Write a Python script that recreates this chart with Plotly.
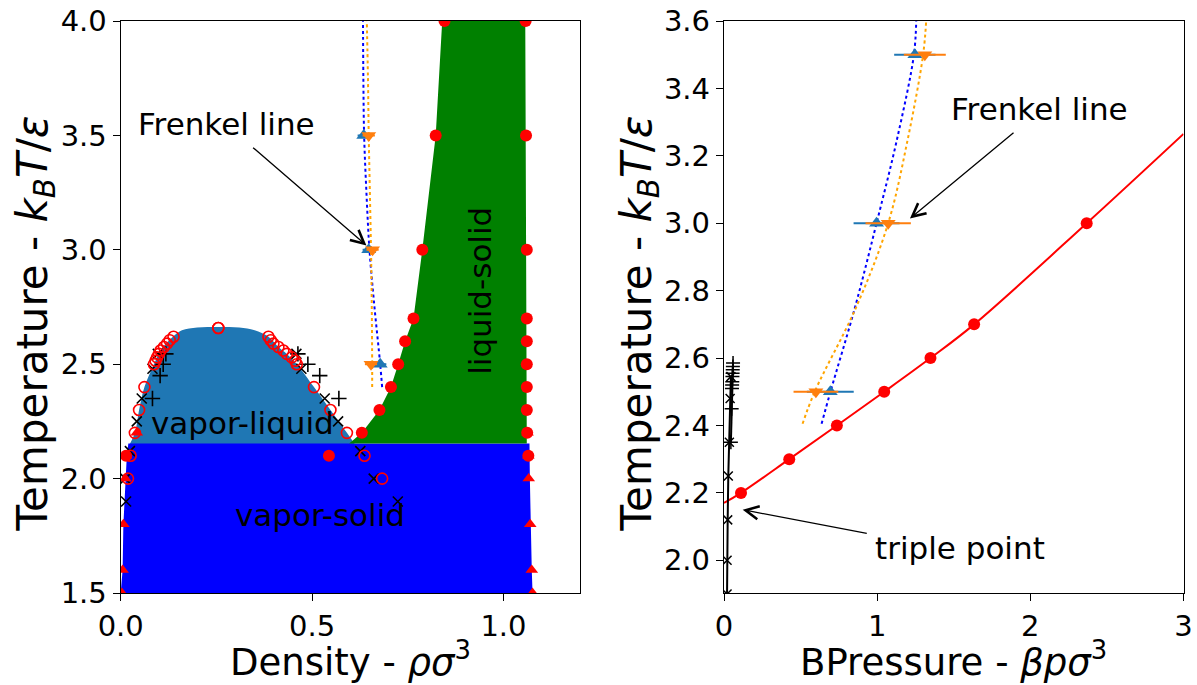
import plotly.graph_objects as go

# ================= DATA =================
# ---- Left panel: density vs temperature ----
# vapor-liquid coexistence (open red circles)
T_vl = [2.0, 2.1, 2.2, 2.3, 2.4, 2.5, 2.515, 2.53, 2.545, 2.56, 2.575, 2.59, 2.605, 2.62, 2.658]
rho_vl_vap = [0.019, 0.026, 0.037, 0.048, 0.062, 0.087, 0.091, 0.095, 0.100, 0.104, 0.113, 0.121, 0.128, 0.138, 0.255]
rho_vl_liq = [0.683, 0.637, 0.591, 0.548, 0.505, 0.460, 0.456, 0.447, 0.434, 0.425, 0.412, 0.399, 0.392, 0.386, 0.255]

# liquid-solid coexistence (filled red circles)
T_ls = [2.2, 2.3, 2.4, 2.5, 2.6, 2.7, 3.0, 3.5, 4.0]
rho_ls_liq = [0.630, 0.676, 0.706, 0.725, 0.743, 0.765, 0.788, 0.823, 0.846]
rho_ls_sol = [1.062, 1.061, 1.061, 1.061, 1.061, 1.061, 1.061, 1.059, 1.058]

# extra filled circles at T = 2.1
T_c21 = [2.1, 2.1, 2.1]
rho_c21 = [0.014, 0.544, 1.065]

# vapor-solid coexistence (red triangles)
T_vs = [2.2, 2.1, 2.0, 1.8, 1.6, 1.5]
rho_vs_vap = [0.042, 0.014, 0.012, 0.007, 0.005, 0.003]
rho_vs_sol = [1.063, 1.065, 1.066, 1.070, 1.074, 1.076]

# black "x" coexistence estimates
T_x = [1.9, 2.0, 2.12, 2.25, 2.35, 2.48, 2.545]
rho_x_vap = [0.014, 0.012, 0.024, 0.042, 0.055, 0.083, 0.097]
rho_x_liq = [0.724, 0.661, 0.626, 0.568, 0.533, 0.472, 0.459]

# black "+" coexistence estimates
T_plus = [2.35, 2.45, 2.50, 2.545]
rho_plus_vap = [0.083, 0.103, 0.111, 0.118]
rho_plus_liq = [0.570, 0.520, 0.489, 0.463]

# Frenkel line (density)
T_fr = [2.5, 3.0, 3.5]
rho_fr_a = [0.678, 0.648, 0.635]
rho_fr_b = [0.654, 0.658, 0.648]
rho_fr_err = [0.016, 0.016, 0.016]
T_fr_fit = [2.4, 2.5, 2.75, 3.0, 3.25, 3.5, 3.75, 4.0]
rho_fr_fit_a = [0.683, 0.678, 0.663, 0.650, 0.642, 0.636, 0.634, 0.633]
rho_fr_fit_b = [0.657, 0.657, 0.656, 0.654, 0.651, 0.648, 0.646, 0.643]

# phase region outlines
dome_rho = [0.017, 0.037, 0.048, 0.062, 0.087, 0.104, 0.121, 0.138, 0.160, 0.200, 0.255,
            0.310, 0.350, 0.386, 0.412, 0.434, 0.460, 0.505, 0.548, 0.591, 0.620]
dome_T = [2.13, 2.2, 2.3, 2.4, 2.5, 2.56, 2.595, 2.622, 2.648, 2.66, 2.663,
          2.66, 2.648, 2.62, 2.575, 2.545, 2.5, 2.4, 2.3, 2.2, 2.13]
vs_rho = [0.000, 0.005, 0.007, 0.012, 0.016, 0.020, 1.068, 1.069, 1.071, 1.074, 1.076]
vs_T = [1.5, 1.6, 1.8, 2.0, 2.1, 2.153, 2.153, 2.0, 1.8, 1.6, 1.5]
ls_rho = [0.597, 0.630, 0.676, 0.706, 0.725, 0.743, 0.765, 0.788, 0.823, 0.840, 1.057, 1.059, 1.061]
ls_T = [2.153, 2.2, 2.3, 2.4, 2.5, 2.6, 2.7, 3.0, 3.5, 4.0, 4.0, 3.0, 2.153]

# ---- Right panel: pressure vs temperature ----
# melting line (red)
p_melt = [0.111, 0.426, 0.737, 1.046, 1.348, 1.633, 2.368]
T_melt = [2.2, 2.3, 2.4, 2.5, 2.6, 2.7, 3.0]
p_melt_fit = [0.0, 0.111, 0.426, 0.737, 1.046, 1.348, 1.633, 2.368, 3.0]
T_melt_fit = [2.17, 2.2, 2.3, 2.4, 2.5, 2.6, 2.7, 3.0, 3.265]

# vapour pressure (black)
T_vp_x = [1.9, 2.0, 2.12, 2.25, 2.35, 2.48, 2.545]
p_vp_x = [0.020, 0.020, 0.024, 0.028, 0.035, 0.040, 0.045]
T_vp_plus = [2.35, 2.45, 2.51, 2.52, 2.53, 2.545, 2.555, 2.565, 2.575, 2.585]
p_vp_plus = [0.045, 0.050, 0.052, 0.053, 0.054, 0.055, 0.056, 0.057, 0.058, 0.059]

# Frenkel line (pressure)
p_fr_a = [0.694, 0.996, 1.246]
p_fr_a_err = [0.153, 0.150, 0.135]
p_fr_b = [0.600, 1.072, 1.311]
p_fr_b_err = [0.146, 0.148, 0.137]
T_pfit = [2.405, 2.5, 2.75, 3.0, 3.25, 3.5, 3.6]
p_fit_a = [0.637, 0.695, 0.855, 0.996, 1.130, 1.240, 1.255]
p_fit_b = [0.513, 0.592, 0.862, 1.072, 1.200, 1.300, 1.320]

# ================= FIGURE =================
FONT = "DejaVu Sans"
TAB_BLUE = "#1f77b4"
TAB_ORANGE = "#ff7f0e"

fig = go.Figure()
L = dict(xaxis="x", yaxis="y")
R = dict(xaxis="x2", yaxis="y2")

# fills
fig.add_trace(go.Scatter(x=dome_rho, y=dome_T, fill="toself", fillcolor=TAB_BLUE,
                         mode="lines", line=dict(width=0, color=TAB_BLUE, shape="spline"),
                         hoverinfo="skip", **L))
fig.add_trace(go.Scatter(x=vs_rho, y=vs_T, fill="toself", fillcolor="#0000ff",
                         mode="lines", line=dict(width=0, color="#0000ff"), hoverinfo="skip", **L))
fig.add_trace(go.Scatter(x=ls_rho, y=ls_T, fill="toself", fillcolor="#008000",
                         mode="lines", line=dict(width=0, color="#008000"), hoverinfo="skip", **L))

# Frenkel (left)
fig.add_trace(go.Scatter(x=rho_fr_fit_a, y=T_fr_fit, mode="lines",
                         line=dict(color="blue", dash="dot", width=2, shape="spline"), **L))
fig.add_trace(go.Scatter(x=rho_fr_fit_b, y=T_fr_fit, mode="lines",
                         line=dict(color="orange", dash="dot", width=2, shape="spline"), **L))
fig.add_trace(go.Scatter(x=rho_fr_a, y=T_fr, mode="markers",
                         marker=dict(symbol="triangle-up", size=13, color=TAB_BLUE),
                         error_x=dict(type="data", array=rho_fr_err, color=TAB_BLUE, width=0, thickness=2), **L))
fig.add_trace(go.Scatter(x=rho_fr_b, y=T_fr, mode="markers",
                         marker=dict(symbol="triangle-down", size=13, color=TAB_ORANGE),
                         error_x=dict(type="data", array=rho_fr_err, color=TAB_ORANGE, width=0, thickness=2), **L))

# black markers (left)
for xs in (rho_x_vap, rho_x_liq):
    fig.add_trace(go.Scatter(x=xs, y=T_x, mode="markers",
                             marker=dict(symbol="x-thin", size=10, line=dict(width=1.6, color="black")), **L))
for xs in (rho_plus_vap, rho_plus_liq):
    fig.add_trace(go.Scatter(x=xs, y=T_plus, mode="markers",
                             marker=dict(symbol="cross-thin", size=11, line=dict(width=1.6, color="black")), **L))

# red markers (left)
for xs in (rho_vl_vap, rho_vl_liq):
    fig.add_trace(go.Scatter(x=xs, y=T_vl, mode="markers",
                             marker=dict(symbol="circle-open", size=11, color="red", line=dict(width=1.6, color="red")), **L))
for xs in (rho_ls_liq, rho_ls_sol):
    fig.add_trace(go.Scatter(x=xs, y=T_ls, mode="markers",
                             marker=dict(symbol="circle", size=12, color="red"), **L))
fig.add_trace(go.Scatter(x=rho_c21, y=T_c21, mode="markers",
                         marker=dict(symbol="circle", size=12, color="red"), **L))
for xs in (rho_vs_vap, rho_vs_sol):
    fig.add_trace(go.Scatter(x=xs, y=T_vs, mode="markers",
                             marker=dict(symbol="triangle-up", size=11, color="red"), **L))

# ---- right panel ----
fig.add_trace(go.Scatter(x=p_fit_a, y=T_pfit, mode="lines",
                         line=dict(color="blue", dash="dot", width=2, shape="spline"), **R))
fig.add_trace(go.Scatter(x=p_fit_b, y=T_pfit, mode="lines",
                         line=dict(color="orange", dash="dot", width=2, shape="spline"), **R))
fig.add_trace(go.Scatter(x=p_fr_a, y=T_fr, mode="markers",
                         marker=dict(symbol="triangle-up", size=13, color=TAB_BLUE),
                         error_x=dict(type="data", array=p_fr_a_err, color=TAB_BLUE, width=0, thickness=2), **R))
fig.add_trace(go.Scatter(x=p_fr_b, y=T_fr, mode="markers",
                         marker=dict(symbol="triangle-down", size=13, color=TAB_ORANGE),
                         error_x=dict(type="data", array=p_fr_b_err, color=TAB_ORANGE, width=0, thickness=2), **R))
fig.add_trace(go.Scatter(x=p_melt_fit, y=T_melt_fit, mode="lines",
                         line=dict(color="red", width=2, shape="spline"), **R))
fig.add_trace(go.Scatter(x=p_melt, y=T_melt, mode="markers",
                         marker=dict(symbol="circle", size=12, color="red"), **R))
fig.add_trace(go.Scatter(x=p_vp_x, y=T_vp_x, mode="lines+markers", line=dict(color="black", width=2),
                         marker=dict(symbol="x-thin", size=9, line=dict(width=1.5, color="black")), **R))
fig.add_trace(go.Scatter(x=p_vp_plus, y=T_vp_plus, mode="lines+markers", line=dict(color="black", width=2),
                         marker=dict(symbol="cross-thin", size=10, line=dict(width=1.5, color="black")), **R))

# ---- axes ----
W, H = 1197, 685
top_px, bot_px = 20.5, 592.7
axis_common = dict(showline=True, mirror=True, linecolor="black", linewidth=1.3,
                   ticks="outside", ticklen=7, tickwidth=1.3, tickcolor="black",
                   showgrid=False, zeroline=False, automargin=False,
                   tickfont=dict(family=FONT, size=29, color="black"))
fig.update_layout(
    width=W, height=H, showlegend=False,
    paper_bgcolor="white", plot_bgcolor="white",
    margin=dict(l=0, r=0, t=top_px, b=H - bot_px, pad=0),
    xaxis=dict(domain=[120.7 / W, 580 / W], range=[0, 1.2], tickvals=[0, 0.5, 1.0],
               ticktext=["0.0", "0.5", "1.0"], anchor="y", **axis_common),
    yaxis=dict(domain=[0, 1], range=[1.5, 4.0], tickvals=[1.5, 2.0, 2.5, 3.0, 3.5, 4.0],
               tickformat=".1f", anchor="x", **axis_common),
    xaxis2=dict(domain=[724 / W, 1183.5 / W], range=[0, 3], tickvals=[0, 1, 2, 3],
                anchor="y2", **axis_common),
    yaxis2=dict(domain=[0, 1], range=[1.903, 3.6],
                tickvals=[2.0, 2.2, 2.4, 2.6, 2.8, 3.0, 3.2, 3.4, 3.6],
                tickformat=".1f", anchor="x2", **axis_common),
)

ph = bot_px - top_px
def py(p):
    return (bot_px - p) / ph

C = dict(xanchor="center", yanchor="middle", showarrow=False)
ann = []
TXT = dict(family=FONT, size=31, color="black")
TITLE = dict(family=FONT, size=37, color="black")
YTITLE = dict(family=FONT, size=42, color="black")
# axis titles
ann.append(dict(text="Density - <i>ρσ</i><sup>3</sup>", xref="paper", yref="paper",
                x=350 / W, y=py(659), font=TITLE, **C))
ann.append(dict(text="BPressure - <i>βpσ</i><sup>3</sup>", xref="paper", yref="paper",
                x=953.8 / W, y=py(659), font=TITLE, **C))
for xc in (35, 639):
    ann.append(dict(text="Temperature - <i>k</i><sub><i>B</i></sub><i>T</i>/<i>ε</i>", xref="paper", yref="paper",
                    x=xc / W, y=py(323), textangle=-90, font=YTITLE, **C))
# region labels
ann.append(dict(text="vapor-liquid", x=0.319, y=2.242, xref="x", yref="y", font=TXT, **C))
ann.append(dict(text="vapor-solid", x=0.521, y=1.84, xref="x", yref="y", font=TXT, **C))
ann.append(dict(text="liquid-solid", x=0.94, y=2.823, xref="x", yref="y", textangle=-90, font=TXT, **C))
# Frenkel labels and arrows
ann.append(dict(text="Frenkel line", x=0.277, y=3.552, xref="x", yref="y", font=TXT, **C))
ann.append(dict(text="", x=0.642, y=3.019, ax=0.342, ay=3.452, xref="x", yref="y", axref="x", ayref="y",
                showarrow=True, arrowhead=5, arrowsize=2, arrowwidth=1.3, arrowcolor="black"))
ann.append(dict(text="Frenkel line", x=2.063, y=3.34, xref="x2", yref="y2", font=TXT, **C))
ann.append(dict(text="", x=1.214, y=3.014, ax=1.9, ay=3.272, xref="x2", yref="y2", axref="x2", ayref="y2",
                showarrow=True, arrowhead=5, arrowsize=2, arrowwidth=1.3, arrowcolor="black"))
ann.append(dict(text="triple point", x=1.54, y=2.036, xref="x2", yref="y2", font=TXT, **C))
ann.append(dict(text="", x=0.122, y=2.150, ax=0.942, ay=2.079, xref="x2", yref="y2", axref="x2", ayref="y2",
                showarrow=True, arrowhead=5, arrowsize=2, arrowwidth=1.3, arrowcolor="black"))
fig.update_layout(annotations=ann)

fig.write_html("out.html", config={"displayModeBar": False},
               post_script="document.body.style.margin='0';")
